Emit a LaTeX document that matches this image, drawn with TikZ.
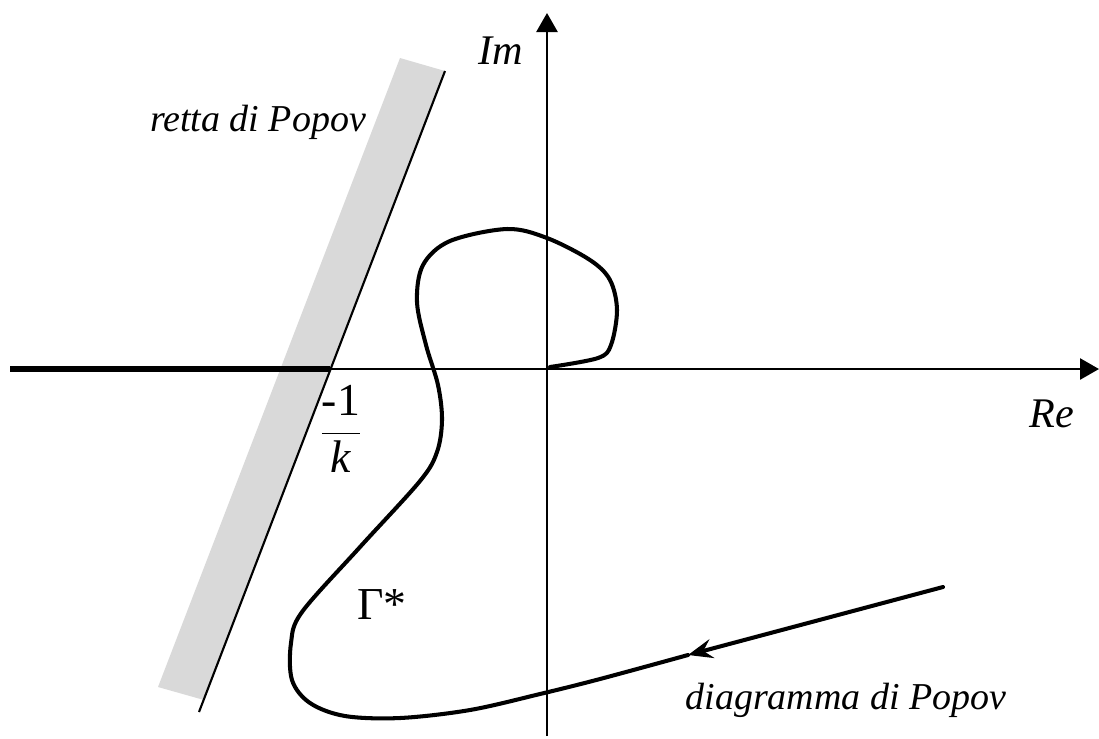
\documentclass[tikz,border=0pt]{standalone}
\usepackage{fontspec}
\setmainfont{Liberation Serif}
\usetikzlibrary{arrows.meta}
\definecolor{bandgray}{HTML}{D9D9D9}

\begin{document}
\begin{tikzpicture}[x=0.01cm,y=-0.01cm,
axis/.style={line width=.65pt,-{Triangle[length=5.4pt,width=6pt]}},
curve/.style={line width=1.15pt,line join=round,line cap=round},
lbl/.style={font=\fontsize{10.8}{13}\selectfont\itshape,inner sep=0pt},
axlbl/.style={font=\fontsize{12}{14}\selectfont\itshape,inner sep=0pt},
big/.style={font=\fontsize{13}{15}\selectfont,inner sep=0pt}]
\useasboundingbox (0,0) rectangle (1099,738);
\coordinate (O) at (547,369);
\coordinate (reL) at (10,369);
\coordinate (reR) at (1099,369);
\coordinate (imB) at (547,736);
\coordinate (imT) at (547,13);
\coordinate (crit) at (330,369);
\coordinate (popT) at (445,71);
\coordinate (popB) at (199,712);
\coordinate (far) at (943,587);
\coordinate (mid) at (688,655);
\fill[bandgray] (400,58) -- (445,71) -- (204,700) -- (158,687) -- cycle;
\draw[line width=.6pt] (popB) -- (popT);
\draw[axis] (reL) -- (reR);
\draw[axis] (imB) -- (imT);
\draw[line width=1.5pt] (reL) -- (crit);
\draw[curve,-{Stealth[length=7pt,width=5.5pt,inset=2.5pt]}] (far) -- (mid);
\draw[curve] plot[smooth,tension=.55] coordinates {(688,655) (600,679) (540,694) (470,710) (400,718) (345,716) (310,703) (292,680) (291,643) (302,612) (360,547) (420,481) (437,452) (442,420) (438,385) (426,345) (417,302) (423,265) (450,241) (507,229) (547,238) (590,260) (610,280) (617,310) (611,345) (598,358) (550,367)};
\node[axlbl] (im) at (501,51) {Im};
\node[axlbl] (re) at (1052,414) {Re};
\node[lbl] (retta) at (258,122) {retta di Popov};
\node[lbl] (diag) at (846,700) {diagramma di Popov};
\node[big] (gam) at (382,605) {Γ*};
\node[big] (kfrac) at (341,429) {$\displaystyle\frac{\textrm{-1}}{\textit{k}}$};
\end{tikzpicture}
\end{document}
